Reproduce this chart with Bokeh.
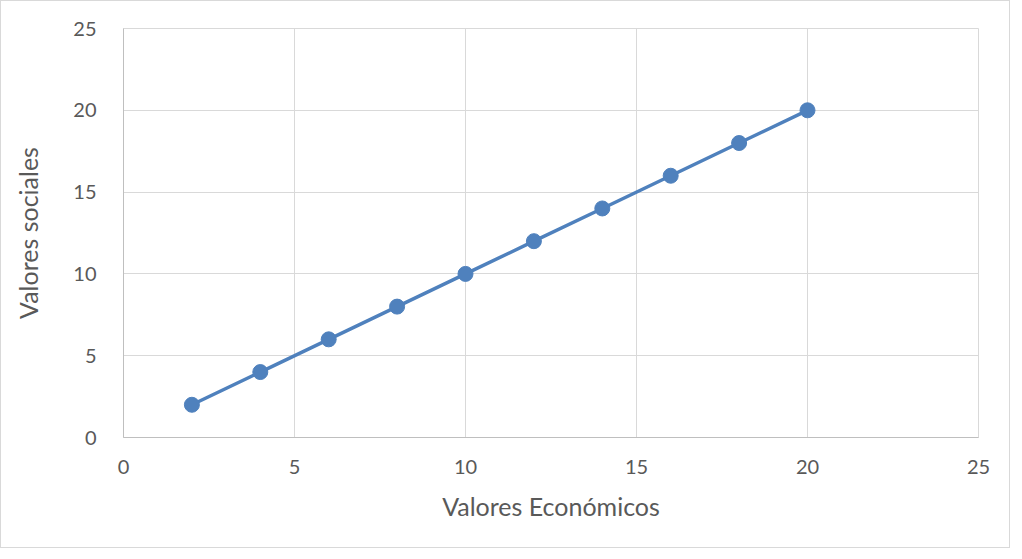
from bokeh.plotting import figure
from bokeh.embed import file_html
from bokeh.resources import INLINE
from bokeh.models import Range1d, FixedTicker

x_vals = [2, 4, 6, 8, 10, 12, 14, 16, 18, 20]
y_vals = [2, 4, 6, 8, 10, 12, 14, 16, 18, 20]
ticks = [0, 5, 10, 15, 20, 25]

p = figure(width=1010, height=548, output_backend="svg", toolbar_location=None,
           x_range=Range1d(0, 25), y_range=Range1d(0, 25),
           min_border_left=122, min_border_top=27, min_border_right=33, min_border_bottom=112)
p.styles = {"border": "1px solid #d9d9d9"}

p.line(x_vals, y_vals, line_color="#4f81bd", line_width=3.5)
p.scatter(x_vals, y_vals, size=15, fill_color="#4f81bd", line_color="#4f81bd")

font = "Lato"
for ax in (p.xaxis, p.yaxis):
    ax.ticker = FixedTicker(ticks=ticks)
    ax.axis_line_color = "#bfbfbf"
    ax.axis_line_width = 1
    ax.major_tick_line_color = None
    ax.minor_tick_line_color = None
    ax.major_label_text_font = font
    ax.major_label_text_font_size = "20px"
    ax.major_label_text_color = "#595959"
    ax.axis_label_text_font = font
    ax.axis_label_text_font_size = "25px"
    ax.axis_label_text_color = "#595959"
    ax.axis_label_text_font_style = "normal"

p.xaxis.axis_label = "Valores Económicos"
p.yaxis.axis_label = "Valores sociales"
p.xaxis.major_label_standoff = 16
p.yaxis.major_label_standoff = 21
p.xaxis.axis_label_standoff = 14
p.yaxis.axis_label_standoff = 27

p.xgrid.ticker = FixedTicker(ticks=ticks)
p.ygrid.ticker = FixedTicker(ticks=ticks)
p.grid.grid_line_color = "#d9d9d9"
p.grid.grid_line_width = 1
p.outline_line_color = "#d9d9d9"

open("out.html", "w").write(file_html(p, INLINE))
